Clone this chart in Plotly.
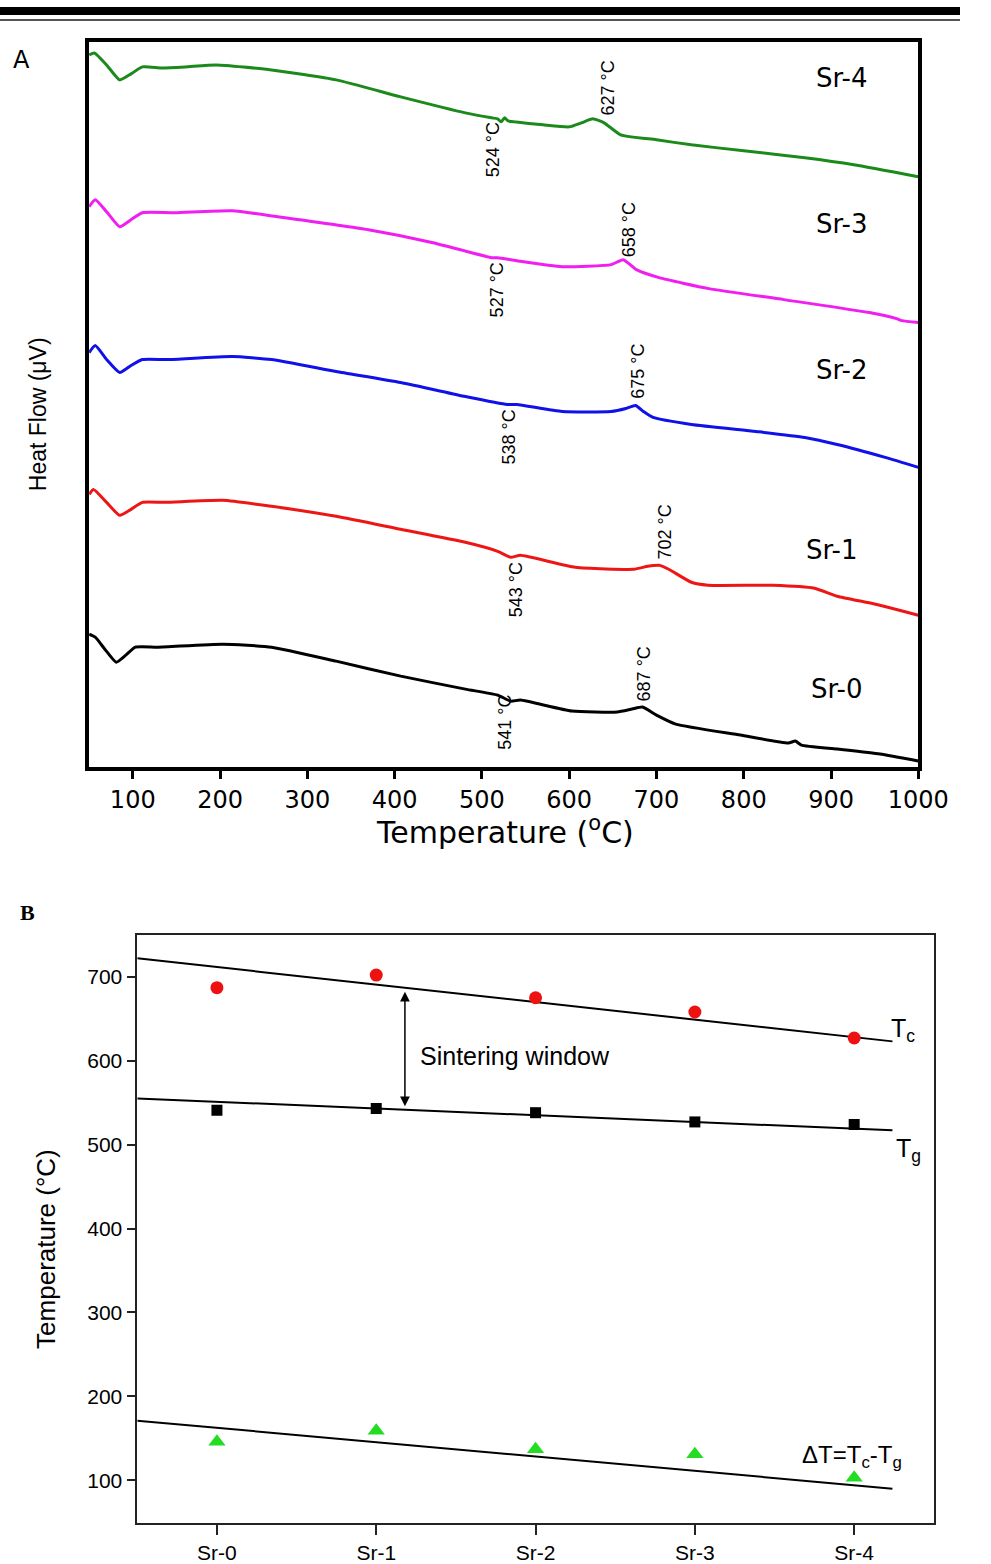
import plotly.graph_objects as go

W, H = 991, 1564

# ---------------- Panel A data (DSC curves, heat flow in arbitrary offset units) ----------------
T_sr4 = [50, 56, 70, 85, 98, 111, 133, 160, 196, 259, 333, 407, 481, 511, 518, 522, 526, 530, 537, 570, 600, 614, 627, 640, 659, 700, 740, 800, 870, 926, 1000]
HF_sr4 = [713, 715, 703, 688, 694, 701, 700, 701, 703, 698, 688, 671, 655, 650, 649, 646, 650, 647, 646, 643, 641, 645, 649, 645, 633, 628, 623, 617, 610, 603, 591]

T_sr3 = [50, 57, 70, 85, 98, 111, 148, 214, 266, 370, 444, 511, 518, 540, 592, 648, 662, 677, 703, 760, 846, 944, 975, 981, 1000]
HF_sr3 = [561, 568, 556, 541, 548, 555, 555, 557, 551, 538, 525, 510, 510, 507, 501, 503, 508, 498, 490, 479, 468, 455, 449, 447, 445]

T_sr2 = [50, 57, 70, 85, 98, 111, 140, 214, 259, 333, 407, 481, 529, 540, 592, 648, 665, 676, 685, 696, 740, 814, 870, 907, 962, 1000]
HF_sr2 = [415, 422, 408, 395, 402, 408, 408, 411, 408, 396, 385, 371, 363, 363, 356, 356, 359, 362, 356, 350, 343, 336, 330, 323, 310, 300]

T_sr1 = [50, 55, 70, 85, 98, 111, 137, 203, 259, 333, 407, 481, 518, 533, 544, 607, 674, 690, 703, 714, 740, 759, 833, 881, 907, 951, 1000]
HF_sr1 = [273, 278, 265, 252, 258, 265, 265, 267, 261, 251, 238, 225, 216, 210, 212, 200, 198, 201, 202, 198, 185, 182, 182, 179, 171, 163, 152]

T_sr0 = [50, 57, 68, 81, 92, 103, 129, 203, 259, 333, 407, 481, 518, 533, 544, 603, 655, 672, 684, 700, 722, 796, 851, 859, 866, 907, 956, 1000]
HF_sr0 = [133, 130, 118, 105, 112, 120, 120, 123, 120, 106, 91, 78, 72, 66, 67, 56, 55, 58, 60, 52, 43, 32, 24, 26, 22, 18, 13, 6]

curves = [
    ("Sr-4", T_sr4, HF_sr4, "#1b8a1b"),
    ("Sr-3", T_sr3, HF_sr3, "#f01ef0"),
    ("Sr-2", T_sr2, HF_sr2, "#1010e8"),
    ("Sr-1", T_sr1, HF_sr1, "#ee1515"),
    ("Sr-0", T_sr0, HF_sr0, "#000000"),
]

# peak labels (text, T, heat-flow position)
peak_labels = [
    ("524 °C", 512, 618), ("627 °C", 644, 680),
    ("527 °C", 517, 478), ("658 °C", 668, 538),
    ("538 °C", 531, 331), ("675 °C", 678, 396),
    ("543 °C", 539, 178), ("702 °C", 710, 235),
    ("541 °C", 526, 45), ("687 °C", 686, 93),
]
series_labels = [("Sr-4", 912, 690), ("Sr-3", 912, 544), ("Sr-2", 912, 398), ("Sr-1", 901, 217), ("Sr-0", 906, 78)]
A_ticks = [100, 200, 300, 400, 500, 600, 700, 800, 900, 1000]

# ---------------- Panel B data ----------------
samples = ["Sr-0", "Sr-1", "Sr-2", "Sr-3", "Sr-4"]
Tc = [687, 702, 675, 658, 627]
Tg = [541, 543, 538, 527, 524]
dT = [146, 159, 137, 131, 103]
fit_x = [-0.5, 4.24]
Tc_fit = [722, 623]
Tg_fit = [555, 517]
dT_fit = [171, 90]
B_ticks = [100, 200, 300, 400, 500, 600, 700]

fig = go.Figure()

for name, t, hf, col in curves:
    fig.add_trace(go.Scatter(x=t, y=hf, mode="lines", name=name,
                             line=dict(color=col, width=3, shape="spline", smoothing=0.5),
                             xaxis="x", yaxis="y", showlegend=False))

xpos = list(range(len(samples)))
for yfit in (Tc_fit, Tg_fit, dT_fit):
    fig.add_trace(go.Scatter(x=fit_x, y=yfit, mode="lines", line=dict(color="black", width=2),
                             xaxis="x2", yaxis="y2", showlegend=False))
fig.add_trace(go.Scatter(x=xpos, y=Tc, mode="markers", marker=dict(symbol="circle", size=13, color="#ee1111"),
                         xaxis="x2", yaxis="y2", showlegend=False))
fig.add_trace(go.Scatter(x=xpos, y=Tg, mode="markers", marker=dict(symbol="square", size=11, color="black"),
                         xaxis="x2", yaxis="y2", showlegend=False))
fig.add_trace(go.Scatter(x=xpos, y=dT, mode="markers", marker=dict(symbol="triangle-up", size=15, color="#22dd22"),
                         xaxis="x2", yaxis="y2", showlegend=False))

ann = []
for txt, t, v in peak_labels:
    ann.append(dict(x=t, y=v, xref="x", yref="y", text=txt, showarrow=False, textangle=-90,
                    xanchor="center", yanchor="middle",
                    font=dict(family="Liberation Sans Narrow, Liberation Sans, Arial", size=18, color="black")))
for txt, t, v in series_labels:
    ann.append(dict(x=t, y=v, xref="x", yref="y", text=txt, showarrow=False,
                    xanchor="center", yanchor="middle",
                    font=dict(family="DejaVu Sans", size=26, color="black")))


def pann(px, py, text, size, family, angle=0):
    return dict(x=px / W, y=1 - py / H, xref="paper", yref="paper", text=text, showarrow=False,
                xanchor="center", yanchor="middle", textangle=angle,
                font=dict(family=family, size=size, color="black"))


ann += [
    pann(22, 60, "A", 24, "DejaVu Sans"),
    pann(521, 832, "Temperature (<sup>o</sup>C)", 30, "DejaVu Sans"),
    pann(40, 415, "Heat Flow (μV)", 23, "Liberation Sans Narrow, Liberation Sans, Arial", -90),
    pann(28, 914, "<b>B</b>", 22, "Liberation Serif"),
    pann(48, 1250, "Temperature (°C)", 26, "Liberation Sans", -90),
    # sintering window arrow
    dict(x=1.18, y=682, ax=1.18, ay=544, xref="x2", yref="y2", axref="x2", ayref="y2", text="",
         showarrow=True, arrowhead=2, arrowside="end+start", arrowsize=1.3, arrowwidth=1.5, arrowcolor="black"),
    dict(x=1.26, y=605, xref="x2", yref="y2", text="Sintering window", showarrow=False,
         xanchor="left", yanchor="middle",
         font=dict(family="Liberation Sans", size=25, color="black")),
    dict(x=4.22, y=636, xref="x2", yref="y2", text="T<sub>c</sub>", showarrow=False,
         xanchor="left", yanchor="middle",
         font=dict(family="Liberation Sans", size=25, color="black")),
    dict(x=4.25, y=493, xref="x2", yref="y2", text="T<sub>g</sub>", showarrow=False,
         xanchor="left", yanchor="middle",
         font=dict(family="Liberation Sans", size=25, color="black")),
    dict(x=3.66, y=128, xref="x2", yref="y2", text="ΔT=T<sub>c</sub>-T<sub>g</sub>", showarrow=False,
         xanchor="left", yanchor="middle",
         font=dict(family="Liberation Sans", size=24, color="black")),
]

shapes = [
    dict(type="rect", xref="paper", yref="paper", x0=0, x1=1, y0=1 - 15 / H, y1=1 - 7 / H,
         fillcolor="black", line=dict(width=0)),
    dict(type="line", xref="paper", yref="paper", x0=0, x1=1, y0=1 - 20 / H, y1=1 - 20 / H,
         line=dict(color="#555555", width=2)),
]

fig.update_layout(
    width=W, height=H, autosize=False,
    margin=dict(l=0, r=0, t=0, b=0, pad=0),
    paper_bgcolor="white", plot_bgcolor="white",
    showlegend=False,
    annotations=ann, shapes=shapes,
    xaxis=dict(domain=[92 / W, 948 / W], anchor="y", range=[50, 1000], tickvals=A_ticks,
               ticks="outside", ticklen=8, tickwidth=3, tickcolor="black",
               showline=True, linewidth=4, linecolor="black", mirror=True,
               showgrid=False, zeroline=False,
               tickfont=dict(family="DejaVu Sans", size=24, color="black")),
    yaxis=dict(domain=[1 - 768 / H, 1 - 42 / H], anchor="x", range=[0, 726],
               showticklabels=False, ticks="", showline=True, linewidth=4, linecolor="black",
               mirror=True, showgrid=False, zeroline=False),
    xaxis2=dict(domain=[141.7 / W, 964 / W], anchor="y2", range=[-0.5, 4.5],
                tickvals=xpos, ticktext=samples,
                ticks="outside", ticklen=10, tickwidth=1.5, tickcolor="#222",
                showline=True, linewidth=1.5, linecolor="#222", mirror=True,
                showgrid=False, zeroline=False,
                tickfont=dict(family="Liberation Sans", size=21, color="black")),
    yaxis2=dict(domain=[1 - 1525 / H, 1 - 936 / H], anchor="x2", range=[49, 750],
                tickvals=B_ticks, ticks="outside", ticklen=9, tickwidth=1.5, tickcolor="#222",
                showline=True, linewidth=1.5, linecolor="#222", mirror=True,
                showgrid=False, zeroline=False,
                tickfont=dict(family="Liberation Sans", size=21, color="black")),
)

fig.write_html("out.html")
